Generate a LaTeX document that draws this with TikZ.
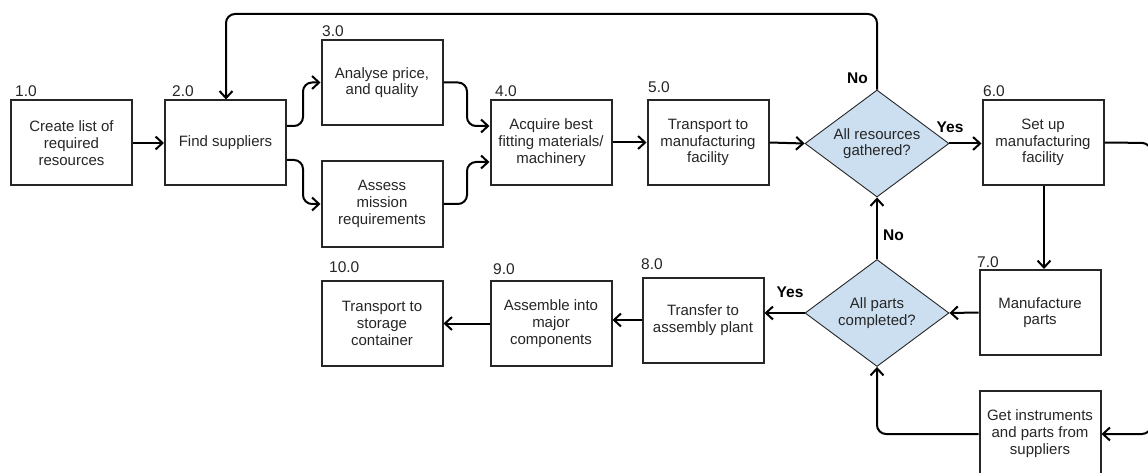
\documentclass[tikz,border=0pt]{standalone}
\usepackage{fontspec}
\setmainfont{Liberation Sans}
\usetikzlibrary{shapes.geometric,arrows.meta}
\definecolor{inkgray}{HTML}{262626}
\definecolor{decisionfill}{HTML}{CCDFF1}
\tikzset{
  stepbox/.style={draw=inkgray, line width=2pt, fill=white, minimum width=121pt,
    minimum height=85pt, inner sep=2pt, align=center, text=inkgray,
    font=\fontsize{15}{16.7}\selectfont},
  decision/.style={diamond, draw=inkgray, line width=0.9pt, fill=decisionfill,
    minimum width=144pt, minimum height=107pt, aspect=1.35, inner sep=0pt, align=center,
    text=inkgray, font=\fontsize{15}{16.7}\selectfont},
  numlabel/.style={anchor=base west, text=inkgray, inner sep=0pt,
    font=\fontsize{15.5}{17}\selectfont},
  answer/.style={text=black, inner sep=0pt, font=\bfseries\fontsize{15.5}{17}\selectfont},
  flow/.style={draw=black, line width=2pt, rounded corners=9pt,
    -{Straight Barb[length=7pt,width=13pt]}},
}
\begin{document}
\begin{tikzpicture}[x=1pt,y=-1pt]
\useasboundingbox (0,0) rectangle (1148,473);
\clip (0,0) rectangle (1148,473);
\fill[white] (0,0) rectangle (1148,473);

% process boxes
\node[stepbox] (b1) at (71.5,143) {Create list of\\required\\resources};
\node[stepbox] (b2) at (225.5,143) {Find suppliers};
\node[stepbox] (b3) at (382,82.5) {Analyse price,\\and quality};
\node[stepbox] (b3b) at (382,204) {Assess\\mission\\requirements};
\node[stepbox] (b4) at (551,142.5) {Acquire best\\fitting materials/\\machinery};
\node[stepbox] (b5) at (708,142.5) {Transport to\\manufacturing\\facility};
\node[decision] (d1) at (877,143.5) {All resources\\gathered?};
\node[stepbox] (b6) at (1043,142.5) {Set up\\manufacturing\\facility};
\node[stepbox] (b7) at (1040,312.5) {Manufacture\\parts};
\node[decision] (d2) at (877,313) {All parts\\completed?};
\node[stepbox] (b8) at (703,320) {Transfer to\\assembly plant};
\node[stepbox] (b9) at (551,323.5) {Assemble into\\major\\components};
\node[stepbox] (b10) at (382,323.5) {Transport to\\storage\\container};
\node[stepbox] (b11) at (1040,433.5) {Get instruments\\and parts from\\suppliers};

% step numbers
\node[numlabel] (n1) at (15,97) {1.0};
\node[numlabel] (n2) at (172,97) {2.0};
\node[numlabel] (n3) at (322,37) {3.0};
\node[numlabel] (n4) at (495,97) {4.0};
\node[numlabel] (n5) at (648,93) {5.0};
\node[numlabel] (n6) at (983,97) {6.0};
\node[numlabel] (n7) at (977,267) {7.0};
\node[numlabel] (n8) at (641,269) {8.0};
\node[numlabel] (n9) at (493,274) {9.0};
\node[numlabel] (n10) at (329,272) {10.0};

% decision answers
\node[answer] (noTop) at (857.5,78) {No};
\node[answer] (yesTop) at (950,127) {Yes};
\node[answer] (noMid) at (893.5,235.5) {No};
\node[answer] (yesLow) at (790,292) {Yes};

% connectors
\draw[flow] (b1.east) -- (b2.west);
\draw[flow] (b2.east |- 0,126) -- (303,126) -- (303,82.5) -- (b3.west);
\draw[flow] (b2.east |- 0,160) -- (303,160) -- (303,204) -- (b3b.west);
\draw[flow] (b3.east) -- (467,82.5) -- (467,126) -- (b4.west |- 0,126);
\draw[flow] (b3b.east) -- (467,204) -- (467,162) -- (b4.west |- 0,162);
\draw[flow] (b4.east) -- (b5.west);
\draw[flow] (b5.east) -- (d1.west);
\draw[flow] (d1.east) -- (b6.west |- d1.east);
\draw[flow] (d1.north) -- (877,14) -- (226,14) -- (b2.north -| 226,0);
\draw[flow] (b6.south -| 1044,0) -- (b7.north -| 1044,0);
\draw[flow] (b6.east) -- (1151,143) -- (1151,434) -- (b11.east |- 0,434);
\draw[flow] (b7.west) -- (d2.east);
\draw[flow] (d2.west) -- (b8.east |- d2.west);
\draw[flow] (d2.north) -- (d1.south);
\draw[flow] (b11.west |- 0,434) -- (877,434) -- (d2.south);
\draw[flow] (b8.west) -- (b9.east |- b8.west);
\draw[flow] (b9.west) -- (b10.east);
\end{tikzpicture}
\end{document}
